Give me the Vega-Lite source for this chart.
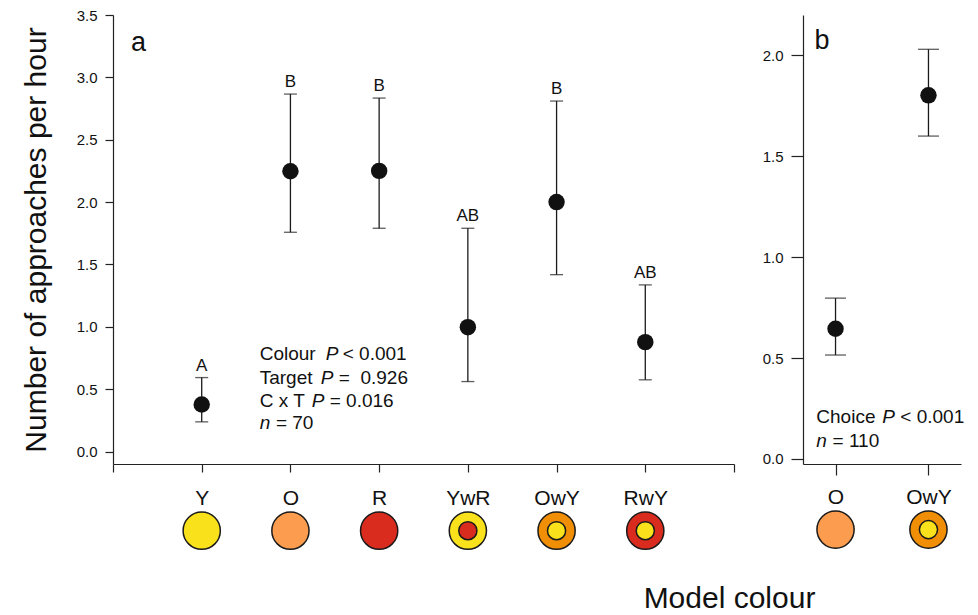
{
  "$schema": "https://vega.github.io/schema/vega-lite/v6.json",
  "autosize": {"type": "pad"},
  "padding": {"left": 21, "top": 8, "right": 0, "bottom": 0},
  "bounds": "flush",
  "spacing": 69,
  "config": {
    "view": {"stroke": null},
    "font": "Liberation Sans",
    "axis": {
      "domainColor": "#222", "domainWidth": 1.2, "tickColor": "#222", "tickWidth": 1.2,
      "labelColor": "#111", "titleColor": "#111", "titleFontWeight": "normal", "grid": false
    },
    "text": {"font": "Liberation Sans", "color": "#111"}
  },
  "datasets": {
    "panelA": [
      {"model": "Y", "mean": 0.377, "lo": 0.238, "hi": 0.593, "group": "A", "outer": "yellow", "inner": null},
      {"model": "O", "mean": 2.247, "lo": 1.758, "hi": 2.866, "group": "B", "outer": "light orange", "inner": null},
      {"model": "R", "mean": 2.25, "lo": 1.79, "hi": 2.834, "group": "B", "outer": "red", "inner": null},
      {"model": "YwR", "mean": 0.997, "lo": 0.561, "hi": 1.79, "group": "AB", "outer": "yellow", "inner": "red"},
      {"model": "OwY", "mean": 2.0, "lo": 1.418, "hi": 2.81, "group": "B", "outer": "orange", "inner": "yellow"},
      {"model": "RwY", "mean": 0.877, "lo": 0.575, "hi": 1.336, "group": "AB", "outer": "red", "inner": "yellow"}
    ],
    "panelB": [
      {"model": "O", "mean": 0.645, "lo": 0.515, "hi": 0.797, "outer": "light orange", "inner": null},
      {"model": "OwY", "mean": 1.802, "lo": 1.6, "hi": 2.03, "outer": "orange", "inner": "yellow"}
    ],
    "one": [{}]
  },
  "hconcat": [
    {
      "width": 621,
      "height": 449,
      "data": {"name": "panelA"},
      "encoding": {
        "x": {
          "field": "model", "type": "nominal",
          "scale": {"type": "point", "domain": [" ", "Y", "O", "R", "YwR", "OwY", "RwY", "  "], "padding": 0},
          "axis": {
            "labelAngle": 0, "labelFontSize": 21, "labelPadding": 15, "tickSize": 8, "labelFlush": false,
            "title": "Model colour", "titleFontSize": 30, "titleX": 616, "titleY": 143,
            "titleAlign": "center", "titleBaseline": "alphabetic", "titleAnchor": "start"
          }
        }
      },
      "layer": [
        {
          "mark": {"type": "rule", "color": "#1a1a1a", "strokeWidth": 1.3},
          "encoding": {
            "y": {
              "field": "lo", "type": "quantitative",
              "scale": {"domain": [-0.1, 3.5], "nice": false, "zero": false},
              "axis": {
                "values": [0, 0.5, 1, 1.5, 2, 2.5, 3, 3.5], "format": ".1f",
                "labelFontSize": 15, "tickSize": 8, "labelPadding": 8,
                "title": "Number of approaches per hour", "titleFontSize": 30, "titlePadding": 25
              }
            },
            "y2": {"field": "hi"}
          }
        },
        {
          "mark": {"type": "tick", "orient": "horizontal", "size": 13, "thickness": 1.3, "color": "#1a1a1a"},
          "encoding": {"y": {"field": "lo", "type": "quantitative"}}
        },
        {
          "mark": {"type": "tick", "orient": "horizontal", "size": 13, "thickness": 1.3, "color": "#1a1a1a"},
          "encoding": {"y": {"field": "hi", "type": "quantitative"}}
        },
        {
          "mark": {"type": "point", "filled": true, "size": 270, "color": "#111", "opacity": 1},
          "encoding": {"y": {"field": "mean", "type": "quantitative"}}
        },
        {
          "mark": {"type": "text", "dy": -7, "baseline": "alphabetic", "fontSize": 17},
          "encoding": {"y": {"field": "hi", "type": "quantitative"}, "text": {"field": "group"}}
        },
        {
          "mark": {"type": "point", "filled": true, "size": 1385, "stroke": "#1a1a1a", "strokeWidth": 1.5, "opacity": 1},
          "encoding": {
            "y": {"datum": -0.635},
            "fill": {"field": "outer", "type": "nominal", "legend": null,
              "scale": {"domain": ["yellow", "light orange", "red", "orange"], "range": ["#f9e11b", "#fb9c4e", "#da2c1e", "#f08f06"]}}
          }
        },
        {
          "transform": [{"filter": "datum.inner != null"}],
          "mark": {"type": "point", "filled": true, "size": 330, "stroke": "#1a1a1a", "strokeWidth": 1.5, "opacity": 1},
          "encoding": {
            "y": {"datum": -0.635},
            "fill": {"field": "inner", "type": "nominal", "legend": null}
          }
        },
        {"data": {"name": "one"}, "mark": {"type": "text", "text": "a", "fontSize": 27, "align": "left", "baseline": "alphabetic", "dx": -70.7},
          "encoding": {"x": {"datum": "Y"}, "y": {"datum": 3.208}}},
        {"data": {"name": "one"}, "mark": {"type": "text", "text": "Colour", "fontSize": 19, "align": "left", "baseline": "alphabetic", "dx": -30.7},
          "encoding": {"x": {"datum": "O"}, "y": {"datum": 0.735}}},
        {"data": {"name": "one"}, "mark": {"type": "text", "text": "P", "fontStyle": "italic", "fontSize": 19, "align": "left", "baseline": "alphabetic", "dx": 35.3},
          "encoding": {"x": {"datum": "O"}, "y": {"datum": 0.735}}},
        {"data": {"name": "one"}, "mark": {"type": "text", "text": "< 0.001", "fontSize": 19, "align": "left", "baseline": "alphabetic", "dx": 52.3},
          "encoding": {"x": {"datum": "O"}, "y": {"datum": 0.735}}},
        {"data": {"name": "one"}, "mark": {"type": "text", "text": "Target", "fontSize": 19, "align": "left", "baseline": "alphabetic", "dx": -30.7},
          "encoding": {"x": {"datum": "O"}, "y": {"datum": 0.542}}},
        {"data": {"name": "one"}, "mark": {"type": "text", "text": "P", "fontStyle": "italic", "fontSize": 19, "align": "left", "baseline": "alphabetic", "dx": 30.3},
          "encoding": {"x": {"datum": "O"}, "y": {"datum": 0.542}}},
        {"data": {"name": "one"}, "mark": {"type": "text", "text": "=", "fontSize": 19, "align": "left", "baseline": "alphabetic", "dx": 48.3},
          "encoding": {"x": {"datum": "O"}, "y": {"datum": 0.542}}},
        {"data": {"name": "one"}, "mark": {"type": "text", "text": "0.926", "fontSize": 19, "align": "left", "baseline": "alphabetic", "dx": 70},
          "encoding": {"x": {"datum": "O"}, "y": {"datum": 0.542}}},
        {"data": {"name": "one"}, "mark": {"type": "text", "text": "C x T", "fontSize": 19, "align": "left", "baseline": "alphabetic", "dx": -30.7},
          "encoding": {"x": {"datum": "O"}, "y": {"datum": 0.358}}},
        {"data": {"name": "one"}, "mark": {"type": "text", "text": "P", "fontStyle": "italic", "fontSize": 19, "align": "left", "baseline": "alphabetic", "dx": 21.3},
          "encoding": {"x": {"datum": "O"}, "y": {"datum": 0.358}}},
        {"data": {"name": "one"}, "mark": {"type": "text", "text": "= 0.016", "fontSize": 19, "align": "left", "baseline": "alphabetic", "dx": 39.3},
          "encoding": {"x": {"datum": "O"}, "y": {"datum": 0.358}}},
        {"data": {"name": "one"}, "mark": {"type": "text", "text": "n", "fontStyle": "italic", "fontSize": 19, "align": "left", "baseline": "alphabetic", "dx": -30.7},
          "encoding": {"x": {"datum": "O"}, "y": {"datum": 0.178}}},
        {"data": {"name": "one"}, "mark": {"type": "text", "text": "= 70", "fontSize": 19, "align": "left", "baseline": "alphabetic", "dx": -14.5},
          "encoding": {"x": {"datum": "O"}, "y": {"datum": 0.178}}}
      ]
    },
    {
      "width": 158,
      "height": 449,
      "data": {"name": "panelB"},
      "encoding": {
        "x": {
          "field": "model", "type": "nominal",
          "scale": {"type": "point", "domain": ["O", "OwY"], "padding": 0.35},
          "axis": {"labelAngle": 0, "labelFontSize": 21, "labelPadding": 11, "tickSize": 11, "title": null}
        }
      },
      "layer": [
        {
          "mark": {"type": "rule", "color": "#1a1a1a", "strokeWidth": 1.3},
          "encoding": {
            "y": {
              "field": "lo", "type": "quantitative",
              "scale": {"domain": [-0.025, 2.2], "nice": false, "zero": false},
              "axis": {"values": [0, 0.5, 1, 1.5, 2], "format": ".1f", "labelFontSize": 15, "tickSize": 12, "labelPadding": 8, "title": null}
            },
            "y2": {"field": "hi"}
          }
        },
        {
          "mark": {"type": "tick", "orient": "horizontal", "size": 21, "thickness": 1.3, "color": "#1a1a1a"},
          "encoding": {"y": {"field": "lo", "type": "quantitative"}}
        },
        {
          "mark": {"type": "tick", "orient": "horizontal", "size": 21, "thickness": 1.3, "color": "#1a1a1a"},
          "encoding": {"y": {"field": "hi", "type": "quantitative"}}
        },
        {
          "mark": {"type": "point", "filled": true, "size": 270, "color": "#111", "opacity": 1},
          "encoding": {"y": {"field": "mean", "type": "quantitative"}}
        },
        {
          "mark": {"type": "point", "filled": true, "size": 1385, "stroke": "#1a1a1a", "strokeWidth": 1.5, "opacity": 1},
          "encoding": {
            "y": {"datum": -0.35},
            "fill": {"field": "outer", "type": "nominal", "legend": null,
              "scale": {"domain": ["yellow", "light orange", "red", "orange"], "range": ["#f9e11b", "#fb9c4e", "#da2c1e", "#f08f06"]}}
          }
        },
        {
          "transform": [{"filter": "datum.inner != null"}],
          "mark": {"type": "point", "filled": true, "size": 330, "stroke": "#1a1a1a", "strokeWidth": 1.5, "opacity": 1},
          "encoding": {
            "y": {"datum": -0.35},
            "fill": {"field": "inner", "type": "nominal", "legend": null}
          }
        },
        {"data": {"name": "one"}, "mark": {"type": "text", "text": "b", "fontSize": 27, "align": "left", "baseline": "alphabetic", "dx": -21},
          "encoding": {"x": {"datum": "O"}, "y": {"datum": 2.033}}},
        {"data": {"name": "one"}, "mark": {"type": "text", "text": "Choice", "fontSize": 19, "align": "left", "baseline": "alphabetic", "dx": -19.2},
          "encoding": {"x": {"datum": "O"}, "y": {"datum": 0.18}}},
        {"data": {"name": "one"}, "mark": {"type": "text", "text": "P", "fontStyle": "italic", "fontSize": 19, "align": "left", "baseline": "alphabetic", "dx": 46.8},
          "encoding": {"x": {"datum": "O"}, "y": {"datum": 0.18}}},
        {"data": {"name": "one"}, "mark": {"type": "text", "text": "< 0.001", "fontSize": 19, "align": "left", "baseline": "alphabetic", "dx": 64.8},
          "encoding": {"x": {"datum": "O"}, "y": {"datum": 0.18}}},
        {"data": {"name": "one"}, "mark": {"type": "text", "text": "n", "fontStyle": "italic", "fontSize": 19, "align": "left", "baseline": "alphabetic", "dx": -19.2},
          "encoding": {"x": {"datum": "O"}, "y": {"datum": 0.06}}},
        {"data": {"name": "one"}, "mark": {"type": "text", "text": "= 110", "fontSize": 19, "align": "left", "baseline": "alphabetic", "dx": -3},
          "encoding": {"x": {"datum": "O"}, "y": {"datum": 0.06}}}
      ]
    }
  ]
}
